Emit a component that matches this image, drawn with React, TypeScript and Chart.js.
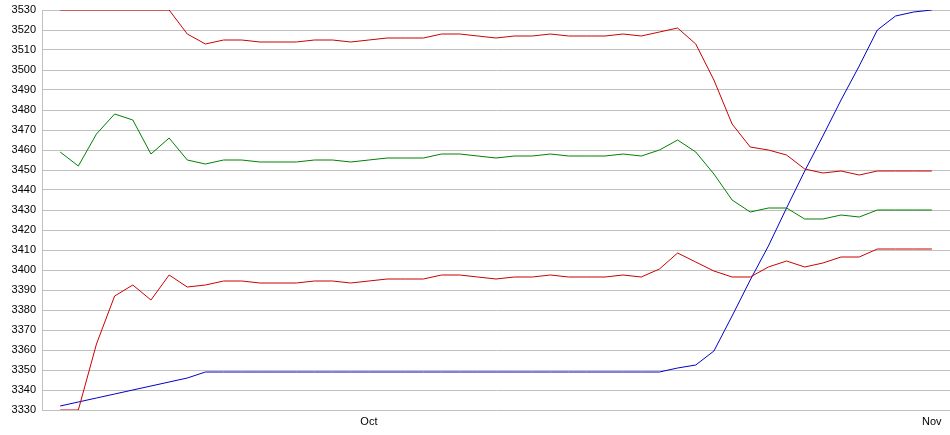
import React, { useEffect, useRef } from "react";
import { Chart, registerables } from "chart.js";

Chart.register(...registerables);

const dates = [
  "Sep 14", "Sep 15", "Sep 16", "Sep 17", "Sep 18", "Sep 19", "Sep 20", "Sep 21", "Sep 22", "Sep 23",
  "Sep 24", "Sep 25", "Sep 26", "Sep 27", "Sep 28", "Sep 29", "Sep 30", "Oct 1", "Oct 2", "Oct 3",
  "Oct 4", "Oct 5", "Oct 6", "Oct 7", "Oct 8", "Oct 9", "Oct 10", "Oct 11", "Oct 12", "Oct 13",
  "Oct 14", "Oct 15", "Oct 16", "Oct 17", "Oct 18", "Oct 19", "Oct 20", "Oct 21", "Oct 22", "Oct 23",
  "Oct 24", "Oct 25", "Oct 26", "Oct 27", "Oct 28", "Oct 29", "Oct 30", "Oct 31", "Nov 1",
];

const monthTickDates = ["Oct 1", "Nov 1"];
const monthTickLabels = ["Oct", "Nov"];

const upperBand = [
  3530, 3530, 3530, 3530, 3530, 3530, 3530, 3518, 3513, 3515,
  3515, 3514, 3514, 3514, 3515, 3515, 3514, 3515, 3516, 3516,
  3516, 3518, 3518, 3517, 3516, 3517, 3517, 3518, 3517, 3517,
  3517, 3518, 3517, 3519, 3521, 3513, 3495, 3473, 3461.5, 3460,
  3457.5, 3450.5, 3448.5, 3449.5, 3447.5, 3449.5, 3449.5, 3449.5, 3449.5,
];

const middleBand = [
  3459, 3452, 3468, 3478, 3475, 3458, 3466, 3455, 3453, 3455,
  3455, 3454, 3454, 3454, 3455, 3455, 3454, 3455, 3456, 3456,
  3456, 3458, 3458, 3457, 3456, 3457, 3457, 3458, 3457, 3457,
  3457, 3458, 3457, 3460, 3465, 3459, 3448, 3435, 3429, 3431,
  3431, 3425.5, 3425.5, 3427.5, 3426.5, 3430, 3430, 3430, 3430,
];

const lowerBand = [
  3330, 3330, 3363, 3387, 3392.5, 3385, 3397.5, 3391.5, 3392.5, 3394.5,
  3394.5, 3393.5, 3393.5, 3393.5, 3394.5, 3394.5, 3393.5, 3394.5, 3395.5, 3395.5,
  3395.5, 3397.5, 3397.5, 3396.5, 3395.5, 3396.5, 3396.5, 3397.5, 3396.5, 3396.5,
  3396.5, 3397.5, 3396.5, 3400.5, 3408.5, 3404, 3399.5, 3396.5, 3396.5, 3401.5,
  3404.5, 3401.5, 3403.5, 3406.5, 3406.5, 3410.5, 3410.5, 3410.5, 3410.5,
];

const price = [
  3332, 3334, 3336, 3338, 3340, 3342, 3344, 3346, 3349, 3349,
  3349, 3349, 3349, 3349, 3349, 3349, 3349, 3349, 3349, 3349,
  3349, 3349, 3349, 3349, 3349, 3349, 3349, 3349, 3349, 3349,
  3349, 3349, 3349, 3349, 3351, 3352.5, 3359.5, 3377, 3395, 3412,
  3431, 3449.5, 3467, 3485, 3502, 3520, 3527, 3529, 3530,
];

const yMin = 3330;
const yMax = 3530;
const yStep = 10;

export default function App() {
  const ref = useRef<HTMLCanvasElement>(null);

  useEffect(() => {
    document.body.style.margin = "0";
    const canvas = ref.current;
    if (!canvas) return;
    const toPoints = (vals: number[]) => vals.map((v, i) => ({ x: i, y: v }));
    const tickIdx = monthTickDates.map((d) => dates.indexOf(d));
    const font = { family: "'Liberation Sans', Arial, sans-serif", size: 11 };
    const line = (label: string, vals: number[], color: string) => ({
      label,
      data: toPoints(vals),
      borderColor: color,
      backgroundColor: color,
      borderWidth: 1,
      pointRadius: 0,
      tension: 0,
      fill: false,
    });

    const chart = new Chart(canvas, {
      type: "line",
      data: {
        datasets: [
          line("Upper", upperBand, "#cc0000"),
          line("Middle", middleBand, "#008000"),
          line("Lower", lowerBand, "#cc0000"),
          line("Price", price, "#0000cc"),
        ],
      },
      options: {
        animation: false,
        responsive: false,
        layout: { padding: { top: 10, right: 0, left: 0, bottom: 0 } },
        plugins: { legend: { display: false }, tooltip: { enabled: false } },
        scales: {
          x: {
            type: "linear",
            min: -1,
            max: dates.length,
            grid: { display: false, drawTicks: false },
            border: { display: false },
            afterBuildTicks: (s: any) => {
              s.ticks = tickIdx.map((v) => ({ value: v }));
            },
            afterFit: (s: any) => {
              s.height = 25;
              s.paddingLeft = 0;
              s.paddingRight = 0;
            },
            ticks: {
              autoSkip: false,
              maxRotation: 0,
              padding: 5,
              color: "#000",
              font,
              callback: (v: any) => {
                const k = tickIdx.indexOf(Number(v));
                return k >= 0 ? monthTickLabels[k] : "";
              },
            },
          },
          y: {
            type: "linear",
            min: yMin,
            max: yMax,
            afterFit: (s: any) => {
              s.width = 42;
              s.paddingTop = 0;
              s.paddingBottom = 0;
            },
            grid: { color: "#c0c0c0", drawTicks: false },
            border: { color: "#c0c0c0" },
            ticks: {
              stepSize: yStep,
              padding: 6,
              color: "#000",
              font,
              callback: (v: any) => String(v),
            },
          },
        },
      },
    });
    return () => chart.destroy();
  }, []);

  return <canvas ref={ref} width={950} height={435} style={{ display: "block" }} />;
}
